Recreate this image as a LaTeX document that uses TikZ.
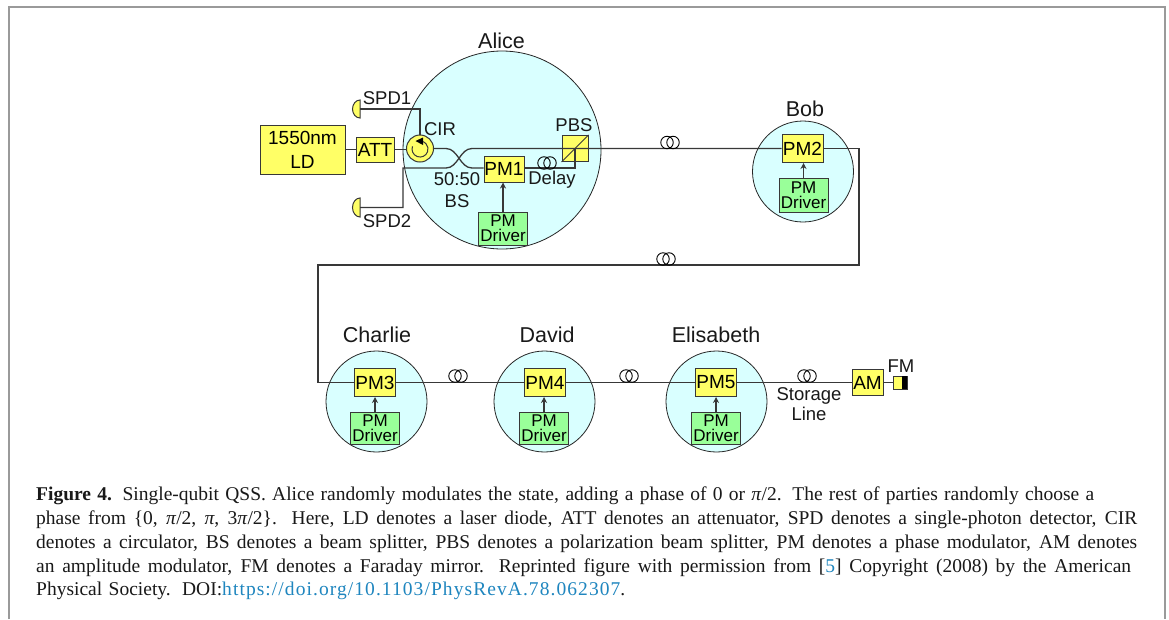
\documentclass[tikz,border=0pt]{standalone}
\usepackage{fontspec}
\usetikzlibrary{arrows.meta}
\setmainfont{Liberation Sans}
\newfontfamily\capfont{Liberation Serif}
\newfontfamily\urlfont[LetterSpace=5.5]{Liberation Serif}
\definecolor{boxyellow}{HTML}{FFFF66}
\definecolor{partyfill}{HTML}{D9FFFF}
\definecolor{drivergreen}{HTML}{99FF99}
\definecolor{fibre}{HTML}{383838}
\definecolor{linkblue}{HTML}{1F86BF}
\definecolor{framegray}{HTML}{9A9A9A}
\tikzset{
  party/.style={circle,draw=black!85,line width=0.8pt,fill=partyfill,minimum size=#1,inner sep=0pt},
  bx/.style={rectangle,draw=fibre,line width=1pt,fill=boxyellow,inner sep=0pt,font=\fontsize{19}{19}\selectfont},
  pmbox/.style={bx,minimum width=41pt,minimum height=28pt},
  driver/.style={rectangle,draw=fibre,line width=1pt,fill=drivergreen,inner sep=0pt,minimum width=49pt,minimum height=33pt,align=center,font=\fontsize{17}{15}\selectfont},
  lab/.style={inner sep=0pt,font=\fontsize{18.5}{18.5}\selectfont,text=black!90},
  partyname/.style={inner sep=0pt,font=\fontsize{21.5}{21.5}\selectfont,text=black!90},
  fib/.style={draw=fibre,line width=1.3pt},
  coilc/.style={circle,draw=black,line width=0.9pt,minimum size=12.5pt,inner sep=0pt},
  caption/.style={inner sep=0pt,anchor=base west,font=\capfont\fontsize{19.5}{24}\selectfont,text=black!90}
}
\newcommand{\linew}[4]{\node[caption] (#1) at (36,#2) {\makebox[#3pt][s]{#4}};}
\begin{document}
\begin{tikzpicture}[x=1pt,y=-1pt]
\useasboundingbox (0,0) rectangle (1169,619);
\fill[white] (0,0) rectangle (1169,619);
\draw[framegray,line width=1.6pt] (9,619) -- (9,7) -- (1165,7) -- (1165,619);
% parties
\node[party=198pt] (alice) at (502,150) {};
\node[party=101pt] (bob) at (803,171.5) {};
\node[party=101pt] (charlie) at (376.5,401.5) {};
\node[party=101pt] (david) at (544.5,401.5) {};
\node[party=101pt] (elis) at (716.5,401.5) {};
% free routing points
\coordinate (spdonej) at (420,109);
\coordinate (spdtwoj) at (403,207);
\coordinate (spdtwok) at (403,168);
\coordinate (bsla) at (446,148.5);
\coordinate (bsra) at (472,148.5);
\coordinate (bslb) at (446,168);
\coordinate (bsrb) at (472,168);
\coordinate (dj) at (575,168);
\coordinate (pbsc) at (575,148.5);
\coordinate (ca) at (859,148.5);
\coordinate (cb) at (859,265);
\coordinate (cc) at (318,265);
\coordinate (cd) at (318,382.5);
% boxes placed first so that fibres can be named
\node[bx,minimum width=85pt,minimum height=49pt,align=center,font=\fontsize{19}{24}\selectfont] (ld) at (302.5,150) {1550nm\\LD};
\node[bx,minimum width=38pt,minimum height=25pt] (att) at (375,149.5) {ATT};
\node[circle,draw=fibre,line width=1pt,fill=boxyellow,minimum size=27pt,inner sep=0pt] (cir) at (420,148.5) {};
\node[pmbox,minimum width=40pt,minimum height=26pt] (pmone) at (504,169) {PM1};
\node[rectangle,draw=fibre,line width=1pt,fill=boxyellow,minimum size=26pt,inner sep=0pt] (pbs) at (575,148.5) {};
\node[driver] (dra) at (503,228.5) {PM\\Driver};
\node[pmbox] (pmtwo) at (802.5,148.5) {PM2};
\node[driver,minimum height=34pt] (drb) at (803.5,195) {PM\\Driver};
\node[pmbox] (pmthree) at (375,382.5) {PM3};
\node[driver,minimum height=32pt] (drc) at (375,428) {PM\\Driver};
\node[pmbox] (pmfour) at (545,382.5) {PM4};
\node[driver,minimum height=32pt] (drd) at (544,428) {PM\\Driver};
\node[pmbox] (pmfive) at (716,382.5) {PM5};
\node[driver,minimum height=32pt] (dre) at (716,428) {PM\\Driver};
\node[bx,minimum width=31pt,minimum height=26pt] (am) at (867.5,382.5) {AM};
\node[rectangle,draw=fibre,line width=1pt,fill=boxyellow,minimum width=14pt,minimum height=13pt,inner sep=0pt] (fm) at (900,382.5) {};
\fill[black] (902,376) rectangle (907,389);
% SPD half discs
\draw[draw=fibre,line width=1pt,fill=boxyellow] (360,100) arc (270:90:7.5 and 9) -- cycle;
\coordinate (spdone) at (360,109);
\draw[draw=fibre,line width=1pt,fill=boxyellow] (360,198) arc (270:90:7.5 and 9.5) -- cycle;
\coordinate (spdtwo) at (360,207.5);
% fibres
\draw[fib] (ld.east |- att.west) -- (att.west);
\draw[fib] (att.east) -- (att.east -| cir.west);
\draw[fib] (spdone) -- (spdonej) -- (cir.north);
\draw[fib] (spdtwo) -- (spdtwoj |- spdtwo) -- (spdtwok) -- (bslb) .. controls (458,168) and (460,148.5) .. (bsra) -- (pbsc) -- (pbs.east) -- (pmtwo.west);
\draw[fib] (pmtwo.east) -- (ca) -- (cb) -- (cc) -- (cd) -- (pmthree.west);
\draw[fib] (cir.east) -- (bsla) .. controls (458,148.5) and (460,168) .. (bsrb) -- (pmone.west |- bsrb);
\draw[fib] (pmone.east |- dj) -- (dj) -- (pbsc);
\draw[draw=fibre,line width=1pt] (pbs.south west) -- (pbs.north east);
\draw[fib] (pmthree.east) -- (pmfour.west);
\draw[fib] (pmfour.east) -- (pmfive.west);
\draw[fib] (pmfive.east) -- (am.west);
\draw[fib] (am.east) -- (fm.west);
% circulator arrow
\draw[fibre,line width=1pt] (412.5,146.3) arc (200:-80:8);
\fill[black] (415.5,141) -- (423,137.5) -- (423,145) -- cycle;
% driver arrows
\foreach \d/\p in {dra/pmone,drb/pmtwo,drc/pmthree,drd/pmfour,dre/pmfive}{
  \draw[draw=fibre,line width=1.1pt,-{Stealth[length=6pt,width=6pt]}] (\d.north) -- (\d.north |- \p.south);
}
% coils
\foreach \n/\x/\y in {a/547/163,b/670/142.5,c/666/259,d/458/376,e/629/376,f/807/376}{
  \node[coilc] (coil\n l) at (\x-3,\y) {};
  \node[coilc] (coil\n r) at (\x+3,\y) {};
}
% labels
\node[partyname] (talice) at (501.5,41) {Alice};
\node[lab] (tspdone) at (387,98) {SPD1};
\node[lab] (tcir) at (440,129.5) {CIR};
\node[lab] (tpbs) at (574,125) {PBS};
\node[lab] (tbs) at (457,179) {50:50};
\node[lab] (tbsb) at (457,201) {BS};
\node[lab] (tdelay) at (552,180) {Delay};
\node[lab] (tspdtwo) at (387,221) {SPD2};
\node[partyname] (tbob) at (805,109) {Bob};
\node[partyname] (tcharlie) at (377,335) {Charlie};
\node[partyname] (tdavid) at (547,335) {David};
\node[partyname] (telis) at (716,335) {Elisabeth};
\node[lab] (tstore) at (809,396) {Storage};
\node[lab] (tline) at (809,414) {Line};
\node[lab] (tfm) at (901,366) {FM};
% caption
\linew{ca1}{500}{1058}{\textbf{Figure 4.} Single-qubit QSS. Alice randomly modulates the state, adding a phase of 0 or \textit{π}/2. The rest of parties randomly choose a}
\linew{ca2}{524}{1101}{phase from \{0, \textit{π}/2, \textit{π}, 3\textit{π}/2\}. Here, LD denotes a laser diode, ATT denotes an attenuator, SPD denotes a single-photon detector, CIR}
\linew{ca3}{548}{1101}{denotes a circulator, BS denotes a beam splitter, PBS denotes a polarization beam splitter, PM denotes a phase modulator, AM denotes}
\linew{ca4}{572}{1095}{an amplitude modulator, FM denotes a Faraday mirror. Reprinted figure with permission from [\textcolor{linkblue}{5}] Copyright (2008) by the American}
\node[caption] (ca5) at (36,595) {\makebox[186pt][s]{Physical Society. DOI:}{\urlfont\fontsize{19.5}{24}\selectfont\textcolor{linkblue}{https://doi.org/10.1103/PhysRevA.78.062307}}.};
\end{tikzpicture}
\end{document}
